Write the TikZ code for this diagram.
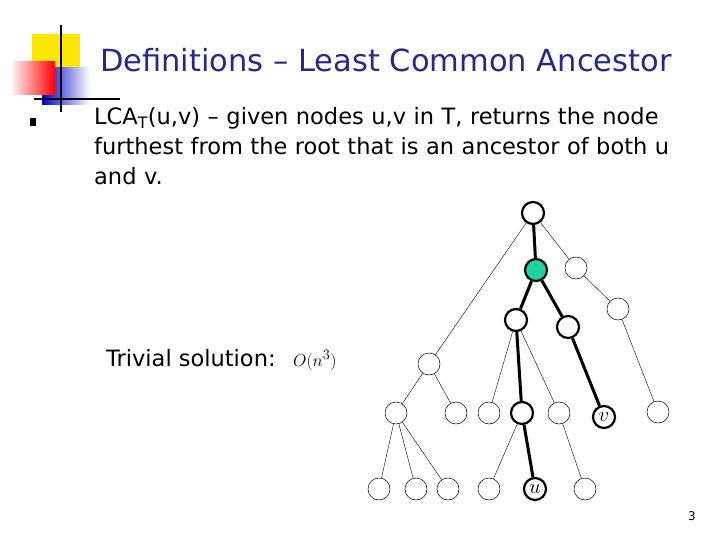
\documentclass[tikz,border=0pt]{standalone}
\usepackage{fontspec}
\setmainfont{DejaVu Sans}
\usetikzlibrary{positioning}
\definecolor{titleblue}{RGB}{40,40,140}
\definecolor{lcagreen}{RGB}{30,210,160}
\begin{document}
\begin{tikzpicture}[x=1pt, y=-1pt]
    \tikzset{
      vtx/.style = {draw, circle, minimum size = 22pt, inner sep = 0pt, line width = 0.5pt},
      path/.style = {vtx, line width = 2.2pt, font = \fontsize{20}{20}\selectfont},
      edge/.style = {line width = 0.4pt},
      pathedge/.style = {line width = 3pt},
    }
    \useasboundingbox (0, 0) rectangle (720, 540);

    % logo
    \fill[yellow!90!orange] (32, 34) rectangle (80, 70);
    \shade[left color = blue!80!black, right color = white] (42, 68) rectangle (90, 105);
    \shade[left color = white, right color = red] (10, 62) rectangle (55, 95);
    \draw[line width = 1.5pt] (61, 25) -- (61, 112);
    \draw[line width = 1.5pt] (34, 99) -- (120, 99);

    \node[anchor = base west, text = titleblue, font = \fontsize{30.5}{32}\selectfont, inner sep = 0pt] (title) at (100, 72) {Definitions -- Least Common Ancestor};

    \fill (30, 118) rectangle (36, 126);
    \node[anchor = north west, align = left, text width = 620pt, inner sep = 0pt,
          font = \fontsize{22.5}{30}\selectfont] (def) at (94, 107)
      {LCA\textsubscript{T}(u,v) -- given nodes u,v in T, returns the node\\furthest from the root that is an ancestor of both u\\and v.};
    \node[anchor = base west, font = \fontsize{22.5}{24}\selectfont, inner sep = 0pt] (triv) at (106, 366) {Trivial solution:};
    \node[anchor = base west, font = \fontsize{19}{20}\selectfont, inner sep = 0pt] (cost) at (293, 366) {$O(n^3)$};
    \node[font = \fontsize{12}{13}\selectfont] (page) at (692, 516) {3};

    % tree
    \node[path] (root) at (533, 213) {};
    \node[path, fill = lcagreen] (lca) at (536, 270) {};
    \node[vtx] (r1) at (576, 268) {};
    \node[vtx] (r2) at (618, 309) {};
    \node[vtx] (r3) at (658, 412) {};
    \node[path] (a) at (516, 320) {};
    \node[path] (b) at (568, 327) {};
    \node[vtx] (l1) at (429, 364) {};
    \node[vtx] (l2) at (396, 413) {};
    \node[vtx] (l3) at (456, 413) {};
    \node[vtx] (l4) at (379, 489) {};
    \node[vtx] (l5) at (416, 489) {};
    \node[vtx] (l6) at (448, 489) {};
    \node[vtx] (a1) at (489, 413) {};
    \node[path] (a2) at (522, 413) {};
    \node[vtx] (a3) at (559, 413) {};
    \node[vtx] (a4) at (489, 489) {};
    \node[path] (u) at (535, 489) {$u$};
    \node[vtx] (a5) at (585, 489) {};
    \node[path] (v) at (604, 417) {$v$};

    \foreach \p/\c in {root/l1, root/r1, r1/r2, r2/r3, l1/l2, l1/l3, l2/l4, l2/l5, l2/l6,
                      a/a1, a/a3, a2/a4, a3/a5}
      \draw[edge] (\p) -- (\c);
    \foreach \p/\c in {root/lca, lca/a, lca/b, a/a2, a2/u, b/v}
      \draw[pathedge] (\p) -- (\c);
\end{tikzpicture}
\end{document}
